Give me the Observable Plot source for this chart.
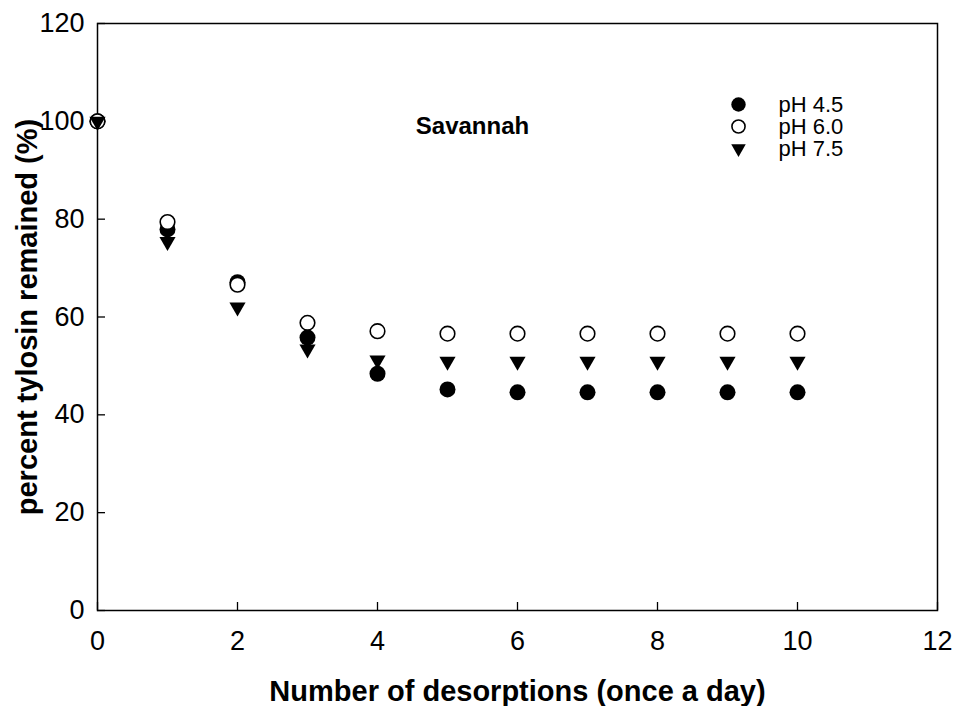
<!DOCTYPE html>
<html>
<head>
<meta charset="utf-8">
<script src="https://cdn.jsdelivr.net/npm/d3@7"></script>
<script src="https://cdn.jsdelivr.net/npm/@observablehq/plot@0.6"></script>
<style>
  body { margin: 0; background: #fff; }
  #chart svg { display: block; }
</style>
</head>
<body>
<div id="chart"></div>
<script>
// desorption number (day) and percent tylosin remaining, Savannah soil
const desorptions = [0, 1, 2, 3, 4, 5, 6, 7, 8, 9, 10]
const ph45 = [100, 77.9, 67.1, 55.8, 48.4, 45.2, 44.6, 44.6, 44.6, 44.6, 44.6]
const ph60 = [100, 79.4, 66.6, 58.8, 57.1, 56.6, 56.6, 56.6, 56.6, 56.6, 56.6]
const ph75 = [100, 75.4, 62.0, 53.4, 51.2, 50.9, 50.9, 50.9, 50.9, 50.9, 50.9]
const xTicks = [0, 2, 4, 6, 8, 10, 12]
const yTicks = [0, 20, 40, 60, 80, 100, 120]
const labels = ['pH 4.5', 'pH 6.0', 'pH 7.5']

const font = 'Liberation Sans, Arial, sans-serif'

// one style per series
const styles = [
  {symbol: 'circle', fill: 'black', stroke: 'none', r: 8, rotate: 0},
  {symbol: 'circle', fill: 'white', stroke: 'black', r: 7.3, rotate: 0},
  {symbol: 'triangle', fill: 'black', stroke: 'none', r: 6, rotate: 180},
]
const series = [ph45, ph60, ph75].map((vals, i) =>
  desorptions.map((d, j) => ({x: d, y: vals[j], label: labels[i]}))
)

let chart = Plot.plot({
  width: 954,
  height: 706,
  marginLeft: 97,
  marginRight: 17,
  marginTop: 23,
  marginBottom: 96,
  style: {fontFamily: font, background: 'white', color: 'black'},
  x: {domain: [0, 12]},
  y: {domain: [0, 120]},
  marks: [
    Plot.frame({stroke: 'black', strokeWidth: 1.5}),
    Plot.axisX(xTicks, {tickSize: -8, tickPadding: 28, fontSize: 27, strokeWidth: 1.3, label: null}),
    Plot.axisY(yTicks, {tickSize: -8, tickPadding: 21, fontSize: 27, strokeWidth: 1.3, label: null}),
    ...series.map((s, i) => Plot.dot(s, {
      x: 'x', y: 'y',
      symbol: styles[i].symbol, fill: styles[i].fill, stroke: styles[i].stroke,
      strokeWidth: 1.6, r: styles[i].r, rotate: styles[i].rotate
    })),
    // legend
    ...labels.flatMap((lab, i) => [
      Plot.dot([lab], {
        frameAnchor: 'top-right', dx: -199, dy: 81 + i * 22,
        symbol: styles[i].symbol, fill: styles[i].fill, stroke: styles[i].stroke,
        strokeWidth: 1.6, r: styles[i].r * 0.9, rotate: styles[i].rotate
      }),
      Plot.text([lab], {
        frameAnchor: 'top-right', dx: -159, dy: 81 + i * 22,
        text: d => d, textAnchor: 'start', lineAnchor: 'middle', fontSize: 22
      })
    ]),
    Plot.text(['Savannah'], {
      frameAnchor: 'top-left', dx: 375, dy: 103,
      text: d => d, textAnchor: 'middle', lineAnchor: 'middle', fontSize: 24, fontWeight: 'bold'
    }),
    Plot.text(['Number of desorptions (once a day)'], {
      frameAnchor: 'bottom', dy: 81,
      text: d => d, lineAnchor: 'middle', fontSize: 29, fontWeight: 'bold'
    }),
    Plot.text(['percent tylosin remained (%)'], {
      frameAnchor: 'left', dx: -70, rotate: -90,
      text: d => d, textAnchor: 'middle', lineAnchor: 'middle', fontSize: 29, fontWeight: 'bold'
    }),
  ],
})

d3.select('#chart').append(() => chart)
</script>
</body>
</html>
